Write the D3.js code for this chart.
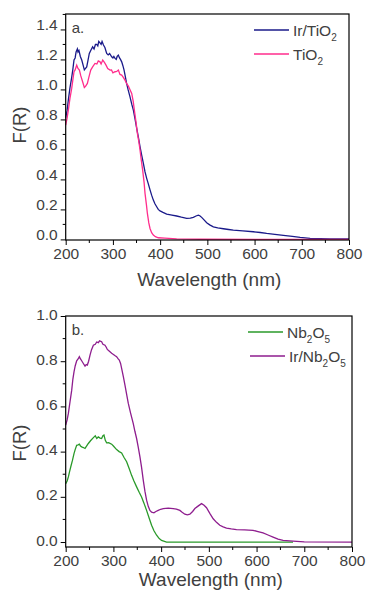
<!DOCTYPE html>
<meta charset="utf-8">
<script src="https://d3js.org/d3.v7.min.js"></script>
<style>
	body{
		margin:0;
		background:#fff;
		font-family: 'Liberation Sans', Arial, sans-serif;
	}
	text{ fill:#404040; }
</style>
<div id="chart"></div>
<script>
	// wavelength (nm), F(R)
	var irTiO2 = [[200,0.81],[203,0.86],[205.6,0.93],[209,1.01],[212.7,1.08],[215,1.13],[217.6,1.196],[220,1.21],[222,1.25],[224.7,1.27],[226,1.25],[228,1.26],[231,1.22],[234,1.196],[237,1.16],[239.5,1.13],[242,1.14],[244.5,1.15],[247,1.19],[250,1.24],[253,1.26],[257,1.284],[260,1.27],[263,1.3],[265.6,1.3],[268,1.29],[270,1.32],[272.7,1.31],[275,1.3],[277,1.32],[280,1.296],[283,1.28],[286.8,1.24],[290,1.23],[293,1.24],[297.4,1.218],[300,1.21],[302,1.22],[304.5,1.207],[307,1.2],[309,1.22],[311.5,1.229],[314,1.21],[316,1.2],[318.6,1.184],[321,1.16],[323.5,1.13],[326,1.09],[329,1.04],[332,1.0],[336.2,0.95],[340,0.9],[343.3,0.862],[347,0.8],[350.4,0.74],[354,0.68],[357.4,0.618],[361,0.56],[364.5,0.507],[368,0.45],[371.5,0.407],[375,0.37],[378.6,0.33],[382,0.295],[385.6,0.262],[389,0.238],[392.7,0.218],[396,0.2],[399.8,0.19],[406,0.18],[413.9,0.169],[425,0.162],[435,0.156],[445,0.148],[456.2,0.14],[464,0.142],[470.3,0.147],[476,0.156],[480.9,0.162],[484,0.158],[488,0.147],[493,0.13],[498.6,0.111],[505,0.097],[512.7,0.084],[522,0.077],[533.9,0.071],[545,0.066],[555,0.062],[575,0.057],[597.4,0.051],[612,0.046],[625.6,0.04],[643,0.034],[661,0.027],[680,0.02],[696.5,0.013],[717.6,0.007],[760,0.004],[800,0.003]]
	var tiO2 = [[200,0.762],[203,0.81],[205.6,0.862],[209,0.94],[212.7,1.007],[215,1.06],[217.6,1.118],[220,1.13],[223.3,1.162],[226,1.14],[229,1.129],[232,1.09],[236,1.05],[239.5,1.013],[242,1.02],[245.9,1.04],[249,1.08],[253,1.129],[257,1.15],[262,1.173],[266,1.17],[269,1.19],[272.7,1.184],[275,1.17],[278.4,1.196],[282,1.18],[285.4,1.162],[289,1.14],[293.9,1.129],[297,1.13],[300,1.11],[304.5,1.118],[308,1.12],[311.5,1.129],[315,1.1],[318.6,1.096],[322,1.08],[325.6,1.062],[329,1.04],[332.7,1.022],[336,1.0],[339.8,0.973],[343,0.92],[345.4,0.862],[349,0.78],[351.8,0.707],[355,0.65],[357.4,0.596],[360,0.53],[363,0.462],[366,0.38],[368,0.307],[371,0.23],[373,0.173],[376,0.11],[378.6,0.073],[382,0.045],[385.6,0.029],[390,0.018],[396.2,0.011],[410,0.008],[435,0.004],[484,0.001],[800,0.0]]
	var nb2O5 = [[200,0.258],[203,0.27],[205.6,0.288],[208,0.31],[210.5,0.332],[214,0.36],[217.4,0.391],[220,0.41],[223,0.428],[226,0.43],[228.6,0.433],[231,0.425],[233.5,0.421],[237,0.418],[240.5,0.414],[244,0.425],[247.4,0.436],[252,0.448],[258,0.462],[262,0.47],[265,0.458],[268.4,0.465],[272,0.46],[275.3,0.458],[278,0.47],[280.2,0.473],[283,0.45],[285.8,0.439],[290,0.44],[296.3,0.433],[300,0.425],[306.7,0.409],[312,0.4],[317.2,0.394],[322,0.375],[327.7,0.355],[333,0.325],[338.1,0.295],[343,0.27],[348.6,0.244],[354,0.22],[359,0.199],[364,0.172],[369.5,0.14],[375,0.105],[380,0.074],[385,0.05],[390.5,0.03],[396,0.015],[400.9,0.007],[411.4,0.0],[500,0.0],[600,0.0],[676.4,0.0]]
	var irNb2O5 = [[200,0.517],[203,0.54],[205.6,0.569],[209,0.62],[212.6,0.672],[215,0.72],[217.4,0.753],[220,0.78],[223,0.802],[226,0.81],[228.6,0.82],[231,0.81],[233.5,0.802],[237,0.79],[240.5,0.778],[243,0.785],[245.3,0.783],[248,0.8],[251,0.827],[254,0.85],[258,0.871],[262,0.875],[265,0.885],[268.4,0.882],[271,0.89],[275.3,0.886],[278,0.875],[282.3,0.871],[285,0.862],[287.2,0.852],[291,0.845],[296.3,0.835],[300,0.83],[303,0.825],[306.7,0.82],[310,0.81],[312.3,0.805],[315,0.79],[317.2,0.768],[321,0.73],[324.2,0.694],[328,0.65],[331.2,0.613],[336,0.57],[341.6,0.524],[345,0.49],[348.6,0.458],[352,0.42],[355.6,0.377],[359,0.33],[362.6,0.273],[366,0.225],[369.5,0.185],[373,0.158],[376.5,0.14],[380,0.132],[384.9,0.129],[389,0.135],[393.9,0.14],[399,0.145],[404.4,0.148],[415,0.15],[425.3,0.148],[432,0.146],[439.3,0.14],[444,0.132],[449.7,0.123],[455,0.12],[460.2,0.123],[466,0.135],[470.7,0.148],[478,0.16],[484.7,0.17],[490,0.163],[495.1,0.152],[502,0.127],[509.1,0.103],[516,0.087],[523,0.074],[530,0.067],[537,0.062],[547,0.058],[558,0.055],[575,0.054],[592.7,0.052],[603,0.046],[613.6,0.04],[624,0.031],[634.6,0.022],[645,0.013],[655.5,0.007],[676.4,0.004],[700,0.001],[800,0.0]]

	var xTicks = [200,300,400,500,600,700,800]
	var yTicksA = [0.0,0.2,0.4,0.6,0.8,1.0,1.2,1.4]
	var yTicksB = [0.0,0.2,0.4,0.6,0.8,1.0]

	var W = 366, H = 593
	var svg = d3.select("#chart").append("svg").attr("width",W).attr("height",H)

	function drawPanel(p){
		var g = svg.append("g")
		var x = d3.scaleLinear().domain([200,800]).range([p.left,p.right])
		var y = d3.scaleLinear().domain(p.yDomain).range([p.bottom,p.top])

		// minor ticks
		var xMinor = d3.range(250,800,100)
		var yMinor = p.yTicks.slice(0,-1).map(function(d){return d+0.1})
		if(p.yDomain[1]>=1.45) yMinor.push(1.5)

		var yAxis = d3.axisLeft(y).tickValues(p.yTicks).tickFormat(d3.format(".1f")).tickSize(5).tickPadding(3)
		var ya = g.append("g").attr("transform","translate("+p.left+",0)").call(yAxis)
		ya.selectAll("text").attr("dy",p.labelDy+"em")
		ya.append("g").selectAll("line").data(yMinor.filter(function(d){return d<=p.yDomain[1]})).join("line")
			.attr("x1",-3).attr("x2",0).attr("y1",function(d){return y(d)}).attr("y2",function(d){return y(d)})
			.attr("stroke","#000")

		var xAxis = d3.axisBottom(x).tickValues(xTicks).tickSize(5).tickPadding(3)
		var xa = g.append("g").attr("transform","translate(0,"+p.bottom+")").call(xAxis)
		xa.append("g").selectAll("line").data(xMinor).join("line")
			.attr("x1",function(d){return x(d)}).attr("x2",function(d){return x(d)}).attr("y1",0).attr("y2",3)
			.attr("stroke","#000")

		g.selectAll(".domain").remove()
		g.selectAll(".tick line").attr("stroke","#000")
		g.selectAll(".tick text").style("font-size","15.5px").style("fill","#404040")

		var line = d3.line().x(function(d){return x(d[0])}).y(function(d){return y(d[1])})
		p.series.forEach(function(s){
			g.append("path").datum(s.data).attr("d",line)
				.attr("fill","none").attr("stroke",s.color).attr("stroke-width",1.3)
		})

		// frame
		g.append("rect").attr("x",p.left).attr("y",p.top).attr("width",p.right-p.left).attr("height",p.bottom-p.top)
			.attr("fill","none").attr("stroke","#000").attr("stroke-width",1.2)

		g.append("text").text(p.tag).attr("x",p.left+6).attr("y",p.top+19).style("font-size","15px")

		// legend
		p.series.forEach(function(s,i){
			var ly = p.legendY + i*24
			g.append("line").attr("x1",p.legendX+s.lx).attr("x2",p.legendX+s.lx+35).attr("y1",ly).attr("y2",ly)
				.attr("stroke",s.color).attr("stroke-width",1.3)
			var t = g.append("text").attr("x",p.legendX+s.lx+39).attr("y",ly+5.5).style("font-size","15.5px")
			s.label.forEach(function(part){
				var ts = t.append("tspan").text(part[0])
				if(part[1]){ ts.attr("dy",5).style("font-size","10px") }
				else if(part[2]){ ts.attr("dy",-5) }
			})
		})

		g.append("text").text("Wavelength (nm)").attr("x",(p.left+p.right)/2+2).attr("y",p.bottom+p.titleOff)
			.attr("text-anchor","middle").style("font-size","19px")
		g.append("text").text("F(R)").attr("transform","translate(26,"+p.yLabel+") rotate(-90)")
			.attr("text-anchor","middle").style("font-size","18.5px")
	}

	drawPanel({
		left:65.7, right:349, top:14, bottom:240, yDomain:[-0.004,1.503], yTicks:yTicksA, labelDy:-0.02,
		tag:"a.", legendX:254, legendY:30, yLabel:125, titleOff:46,
		series:[
			{data:irTiO2, color:"#1a1a8a", lx:0, label:[["Ir/TiO"],["2",true],["",false,true]]},
			{data:tiO2, color:"#ff2d8c", lx:0, label:[["TiO"],["2",true]]}
		]
	})
	drawPanel({
		left:65.7, right:352, top:316, bottom:547, yDomain:[-0.022,1.0], yTicks:yTicksB, labelDy:0.2,
		tag:"b.", legendX:248, legendY:332, yLabel:443, titleOff:39,
		series:[
			{data:nb2O5, color:"#2a9a2a", lx:0, label:[["Nb"],["2",true],["O",false,true],["5",true]]},
			{data:irNb2O5, color:"#8e1d8e", lx:2, label:[["Ir/Nb"],["2",true],["O",false,true],["5",true]]}
		]
	})
</script>
